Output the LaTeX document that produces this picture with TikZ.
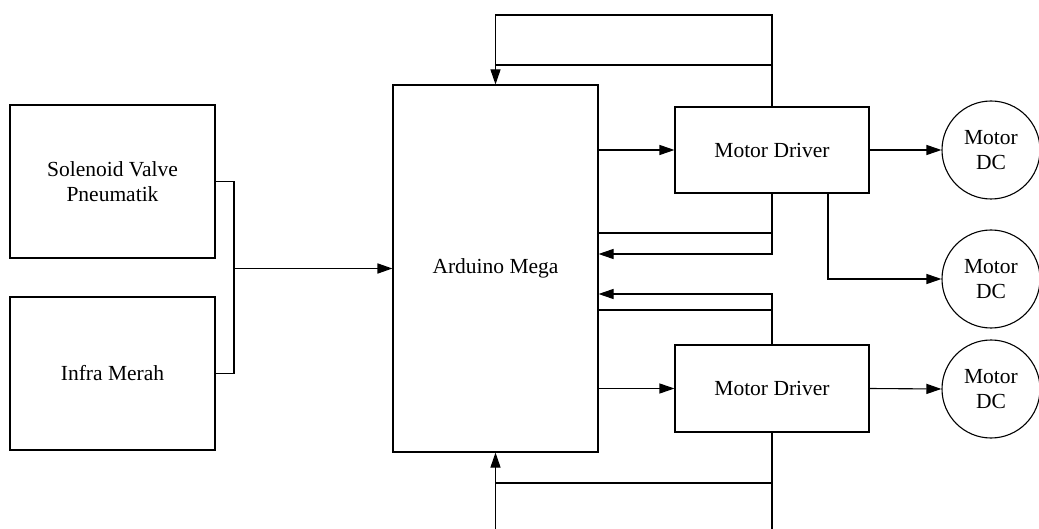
\documentclass[tikz,border=0pt]{standalone}
\usepackage{fontspec}
\setmainfont{Liberation Serif}
\usetikzlibrary{arrows.meta}
\begin{document}
\begin{tikzpicture}[x=1pt,y=-1pt,line width=1.1pt,
  font=\fontsize{21.5}{25.5}\selectfont,
  block/.style={draw,rectangle,align=center,inner sep=0pt},
  motor/.style={draw,circle,minimum size=98pt,align=center,inner sep=0pt},
  arr/.style={-{Triangle[length=15pt,width=10pt]}}]
\useasboundingbox (0,0) rectangle (1039,529);

\node [block,minimum width=205pt,minimum height=153pt] (sol) at (112.5,181.5) {Solenoid Valve\\Pneumatik};
\node [block,minimum width=205pt,minimum height=153pt] (infra) at (112.5,373.5) {Infra Merah};
\node [block,minimum width=205pt,minimum height=367pt] (ard) at (495.5,268.5) {Arduino Mega};
\node [block,minimum width=194pt,minimum height=86pt] (drvA) at (772,150) {Motor Driver};
\node [block,minimum width=194pt,minimum height=87pt] (drvB) at (772,388.5) {Motor Driver};

\node [motor] (dcA) at (991,150) {Motor\\DC};
\node [motor] (dcB) at (991,279) {Motor\\DC};
\node [motor] (dcC) at (991,389) {Motor\\DC};

\coordinate (jn) at (234,268.5);
\draw [line width=1.7pt] (sol.east) -- (jn |- sol.east) -- (jn |- infra.east) -- (infra.east);
\draw [arr,line width=1.7pt] (jn) -- (ard.west);

\draw [arr] (ard.east |- drvA.west) -- (drvA.west);
\draw [arr] (ard.east |- drvB.west) -- (drvB.west);
\draw [arr] (drvA.east) -- (dcA.west);
\draw [arr] (drvB.east) -- (dcC.west);
\draw [arr] ([xshift=56pt]drvA.south) |- (dcB.west);

\draw [arr] (drvA.north) -- (drvA.north |- 0,15) -| (ard.north);
\draw (drvA.north |- 0,65) -- (ard.north |- 0,65);

\draw [arr] (drvA.south) |- (ard.east |- 0,254);
\draw (drvA.south |- 0,233) -- (ard.east |- 0,233);
\draw [arr] (drvB.north) |- (ard.east |- 0,294);
\draw (drvB.north |- 0,310) -- (ard.east |- 0,310);

\draw (drvB.south) -- (drvB.south |- 0,530);
\draw (drvB.south |- 0,483) -- (ard.south |- 0,483);
\draw [arr] (ard.south |- 0,530) -- (ard.south);
\end{tikzpicture}
\end{document}
